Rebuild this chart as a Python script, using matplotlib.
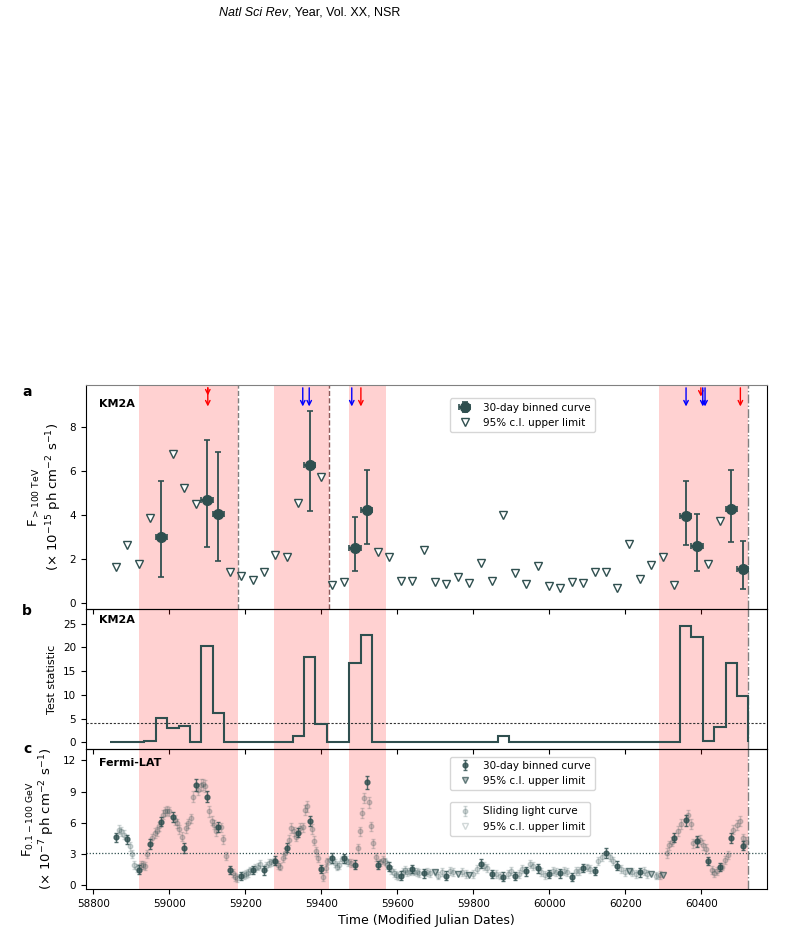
import numpy as np
import matplotlib.pyplot as plt

plt.rcParams["font.family"] = ["DejaVu Sans"]
plt.rcParams["font.size"] = 7.5
plt.rcParams["xtick.labelsize"] = 7.5
plt.rcParams["ytick.labelsize"] = 7.5

DSG = "#2f4f4f"  # darkslategray

# ---------------- data ----------------
# 30-day bin centres (MJD)
bin_mjd = [58859, 58889, 58919, 58949, 58979, 59009, 59039, 59069, 59099, 59129,
           59159, 59189, 59219, 59249, 59279, 59309, 59339, 59369, 59399, 59429,
           59459, 59489, 59519, 59549, 59579, 59609, 59639, 59669, 59699, 59729,
           59759, 59789, 59819, 59849, 59879, 59909, 59939, 59969, 59999, 60029,
           60059, 60089, 60119, 60149, 60179, 60209, 60239, 60269, 60299, 60329,
           60359, 60389, 60419, 60449, 60479, 60509]
bin_half = 15

# KM2A test statistic per bin
km2a_ts = [0, 0, 0, 0.35, 5.2, 3.0, 3.5, 0, 20.4, 6.1,
           0, 0, 0, 0, 0, 0, 1.26, 18.0, 3.9, 0,
           0, 16.7, 22.7, 0, 0, 0, 0, 0.05, 0, 0,
           0, 0, 0, 0, 1.4, 0, 0, 0, 0, 0,
           0, 0, 0, 0, 0, 0.1, 0, 0, 0.1, 0,
           24.6, 22.1, 0.2, 3.2, 16.8, 9.7]

# KM2A detections
km2a_det_mjd = [58979, 59099, 59129, 59369, 59489, 59519, 60359, 60389, 60479, 60509]
km2a_det_flux = [2.98, 4.68, 4.04, 6.27, 2.51, 4.21, 3.95, 2.60, 4.27, 1.53]
km2a_det_low = [1.17, 2.55, 1.91, 4.17, 1.43, 2.69, 2.64, 1.43, 2.75, 0.61]
km2a_det_high = [5.55, 7.41, 6.88, 8.74, 3.89, 6.04, 5.56, 4.05, 6.03, 2.82]

# KM2A upper limits
km2a_ul_mjd = [58859, 58889, 58919, 58949, 59009, 59039, 59069, 59159, 59189, 59219,
               59249, 59279, 59309, 59339, 59399, 59429, 59459, 59549, 59579, 59609,
               59639, 59669, 59699, 59729, 59759, 59789, 59819, 59849, 59879, 59909,
               59939, 59969, 59999, 60029, 60059, 60089, 60119, 60149, 60179, 60209,
               60239, 60269, 60299, 60329, 60419, 60449]
km2a_ul_flux = [1.64, 2.64, 1.76, 3.84, 6.79, 5.21, 4.51, 1.38, 1.20, 1.05,
                1.40, 2.16, 2.07, 4.53, 5.75, 0.82, 0.94, 2.32, 2.08, 1.00,
                1.00, 2.38, 0.94, 0.84, 1.19, 0.90, 1.82, 0.97, 3.98, 1.37,
                0.84, 1.67, 0.75, 0.67, 0.94, 0.91, 1.40, 1.38, 0.65, 2.67,
                1.06, 1.72, 2.07, 0.82, 1.76, 3.71]

# Fermi-LAT 30-day binned
fermi_det_mjd = [58859, 58889, 58919, 58949, 58979, 59009, 59039, 59069, 59099, 59129,
                 59159, 59189, 59219, 59249, 59279, 59309, 59339, 59369, 59399, 59429,
                 59459, 59489, 59519, 59549, 59579, 59609, 59639, 59669, 59729, 59819,
                 59849, 59879, 59909, 59939, 59969, 59999, 60029, 60059, 60089, 60119,
                 60149, 60179, 60239, 60329, 60359, 60389, 60419, 60449, 60479, 60509]
fermi_det_flux = [4.57, 4.38, 1.48, 3.93, 6.11, 6.55, 3.57, 9.65, 8.52, 5.60,
                  1.42, 0.87, 1.42, 1.40, 2.35, 3.60, 5.02, 6.18, 1.54, 2.60,
                  2.57, 1.96, 9.88, 1.93, 1.77, 0.90, 1.50, 1.10, 0.90, 2.06,
                  1.04, 0.80, 0.83, 1.30, 1.60, 1.04, 1.10, 0.77, 1.60, 1.36,
                  3.07, 1.84, 1.20, 4.55, 6.22, 4.20, 2.32, 1.74, 4.53, 3.77]
fermi_det_err = [0.45, 0.45, 0.45, 0.45, 0.45, 0.45, 0.45, 0.55, 0.5, 0.5,
                 0.4, 0.4, 0.4, 0.4, 0.4, 0.45, 0.45, 0.5, 0.4, 0.45,
                 0.45, 0.45, 0.6, 0.4, 0.4, 0.4, 0.4, 0.4, 0.4, 0.4,
                 0.4, 0.4, 0.4, 0.4, 0.45, 0.4, 0.4, 0.4, 0.4, 0.4,
                 0.45, 0.45, 0.4, 0.45, 0.5, 0.5, 0.4, 0.4, 0.45, 0.45]
fermi_ul_mjd = [59699, 59759, 59789, 60209, 60269, 60299]
fermi_ul_flux = [1.20, 1.06, 0.94, 1.30, 1.06, 1.00]

# Fermi-LAT sliding light curve
slide_mjd = [58866, 58873, 58880, 58895, 58901, 58908, 58915, 58924, 58931, 58936,
             58941, 58954, 58961, 58967, 58972, 58983, 58988, 58994, 59000, 59014,
             59021, 59026, 59033, 59044, 59050, 59056, 59061, 59076, 59082, 59088,
             59093, 59104, 59111, 59117, 59123, 59136, 59142, 59149, 59167, 59173,
             59179, 59195, 59202, 59208, 59213, 59225, 59233, 59239, 59255, 59261,
             59268, 59274, 59286, 59292, 59298, 59304, 59315, 59321, 59327, 59333,
             59345, 59351, 59356, 59361, 59374, 59380, 59386, 59392, 59404, 59411,
             59416, 59422, 59435, 59441, 59447, 59453, 59464, 59471, 59478, 59496,
             59501, 59507, 59512, 59525, 59531, 59537, 59543, 59554, 59561, 59567,
             59573, 59584, 59590, 59596, 59602, 59614, 59620, 59626, 59632, 59645,
             59651, 59658, 59677, 59686, 59708, 59717, 59739, 59747, 59769, 59781,
             59800, 59809, 59828, 59837, 59860, 59869, 59890, 59898, 59919, 59929,
             59949, 59958, 59979, 59988, 60009, 60018, 60039, 60047, 60069, 60077,
             60098, 60107, 60129, 60138, 60159, 60169, 60190, 60198, 60219, 60228,
             60249, 60258, 60281, 60291, 60309, 60316, 60322, 60339, 60348, 60366,
             60372, 60379, 60388, 60397, 60405, 60412, 60427, 60434, 60441, 60454,
             60462, 60471, 60484, 60493, 60502, 60511, 60519]
slide_flux = [5.31, 5.15, 4.83, 3.71, 3.00, 1.90, 1.61, 1.90, 1.90, 1.80,
              3.00, 4.50, 5.00, 5.15, 5.63, 6.76, 7.08, 7.15, 7.08, 6.27,
              5.95, 5.37, 4.66, 5.47, 5.95, 6.43, 8.52, 9.18, 9.65, 9.68,
              9.55, 7.08, 6.20, 5.80, 5.15, 5.56, 4.40, 2.80, 1.13, 0.80,
              0.64, 0.97, 1.06, 1.13, 1.39, 1.61, 1.77, 2.03, 1.84, 2.10,
              2.16, 2.26, 1.93, 1.77, 2.57, 3.06, 4.34, 5.47, 5.15, 4.66,
              5.47, 5.56, 7.24, 7.56, 5.40, 4.27, 3.22, 2.57, 0.80, 1.60,
              2.26, 2.42, 2.10, 1.77, 1.90, 2.45, 2.42, 2.16, 2.10, 3.54,
              5.15, 6.92, 8.36, 7.95, 5.63, 4.02, 2.67, 2.16, 2.42, 2.26,
              1.93, 1.45, 1.13, 0.97, 0.87, 1.29, 1.45, 1.20, 1.29, 1.29,
              1.20, 1.13, 1.23, 1.13, 0.90, 1.20, 1.30, 1.20, 1.20, 1.04,
              1.04, 1.52, 1.84, 1.60, 1.04, 0.90, 1.04, 1.30, 1.04, 1.52,
              2.00, 1.84, 1.20, 0.97, 1.30, 1.20, 1.36, 1.20, 1.30, 1.36,
              1.68, 1.52, 2.32, 2.71, 2.65, 2.32, 1.52, 1.20, 1.20, 1.04,
              1.30, 1.04, 0.90, 0.97, 3.06, 3.80, 4.18, 5.20, 5.85, 6.76,
              5.89, 4.00, 4.20, 4.35, 3.86, 3.47, 1.45, 1.13, 1.35, 1.77,
              2.41, 2.90, 5.31, 5.79, 6.18, 4.50, 4.18]
slide_err = [0.45, 0.45, 0.45, 0.45, 0.38, 0.38, 0.38, 0.38, 0.38, 0.38,
             0.38, 0.45, 0.45, 0.45, 0.45, 0.45, 0.45, 0.45, 0.45, 0.45,
             0.45, 0.45, 0.45, 0.45, 0.45, 0.45, 0.5, 0.5, 0.55, 0.55,
             0.55, 0.5, 0.45, 0.45, 0.45, 0.45, 0.45, 0.38, 0.38, 0.38,
             0.38, 0.38, 0.38, 0.38, 0.38, 0.38, 0.38, 0.38, 0.38, 0.38,
             0.38, 0.38, 0.38, 0.38, 0.38, 0.45, 0.45, 0.45, 0.45, 0.45,
             0.45, 0.45, 0.5, 0.5, 0.45, 0.45, 0.45, 0.38, 0.38, 0.38,
             0.38, 0.38, 0.38, 0.38, 0.38, 0.38, 0.38, 0.38, 0.38, 0.45,
             0.45, 0.5, 0.5, 0.5, 0.45, 0.45, 0.38, 0.38, 0.38, 0.38,
             0.38, 0.38, 0.38, 0.38, 0.38, 0.38, 0.38, 0.38, 0.38, 0.38,
             0.38, 0.38, 0.38, 0.38, 0.38, 0.38, 0.38, 0.38, 0.38, 0.38,
             0.38, 0.38, 0.38, 0.38, 0.38, 0.38, 0.38, 0.38, 0.38, 0.38,
             0.38, 0.38, 0.38, 0.38, 0.38, 0.38, 0.38, 0.38, 0.38, 0.38,
             0.38, 0.38, 0.38, 0.38, 0.38, 0.38, 0.38, 0.38, 0.38, 0.38,
             0.38, 0.38, 0.38, 0.38, 0.45, 0.45, 0.45, 0.45, 0.5, 0.5,
             0.5, 0.45, 0.45, 0.45, 0.45, 0.45, 0.38, 0.38, 0.38, 0.38,
             0.38, 0.38, 0.45, 0.5, 0.5, 0.45, 0.45]
slide_ul_mjd = [59698, 60213, 60285]
slide_ul_flux = [1.15, 1.25, 0.85]

# flaring periods and markers
flare_start = [58920, 59275, 59473, 60290]
flare_end = [59181, 59419, 59570, 60524]
red_arrow_mjd = [59101, 59101, 59504, 60399, 60503]
red_arrow_end = [9.45, 8.95, 8.95, 9.4, 8.95]
blue_arrow_mjd = [59351, 59368, 59480, 60360, 60404, 60410]
blue_arrow_end = [8.95, 8.95, 8.95, 8.95, 8.95, 8.95]
arrow_top = 9.8

# y labels: (first line, second line)
ylab_a = ("F$_{>100\\ \\rm TeV}$", "($\\times$ 10$^{-15}$ ph cm$^{-2}$ s$^{-1}$)")
ylab_c = ("F$_{0.1-100\\ \\rm GeV}$", "($\\times$ 10$^{-7}$ ph cm$^{-2}$ s$^{-1}$)")

# ---------------- figure ----------------
fig = plt.figure(figsize=(8.1, 9.48), dpi=100)
left, width = 0.106, 0.8404
ax_a = fig.add_axes([left, 0.3576, width, 0.2363])
ax_b = fig.add_axes([left, 0.2099, width, 0.1477], sharex=ax_a)
ax_c = fig.add_axes([left, 0.0622, width, 0.1477], sharex=ax_a)
for ax in (ax_a, ax_b, ax_c):
    ax.set_facecolor("none")
    for s, e in zip(flare_start, flare_end):
        ax.axvspan(s, e, color="red", alpha=0.18, lw=0, zorder=0)
    ax.axvline(flare_end[-1], color="gray", ls="-.", lw=1, zorder=1)

# panel a
ax_a.axvline(flare_end[0], color="gray", ls="--", lw=1, zorder=1)
ax_a.axvline(flare_end[1], color="#8b5a5a", ls="--", lw=1, zorder=1)
det = np.array(km2a_det_flux)
yerr = [det - np.array(km2a_det_low), np.array(km2a_det_high) - det]
h_det = ax_a.errorbar(km2a_det_mjd, km2a_det_flux, yerr=yerr, xerr=bin_half,
                      fmt="o", ms=7, color=DSG, elinewidth=1.3, capsize=2.5,
                      capthick=1.2, zorder=4)
h_ul, = ax_a.plot(km2a_ul_mjd, km2a_ul_flux, "v", ms=6, mfc="white", mec=DSG,
                  mew=1, ls="none", zorder=3)
for x, y in zip(red_arrow_mjd, red_arrow_end):
    ax_a.annotate("", xy=(x, y), xytext=(x, arrow_top),
                  arrowprops=dict(arrowstyle="->", color="red", lw=1,
                                  shrinkA=0, shrinkB=0, mutation_scale=8))
for x, y in zip(blue_arrow_mjd, blue_arrow_end):
    ax_a.annotate("", xy=(x, y), xytext=(x, arrow_top),
                  arrowprops=dict(arrowstyle="->", color="blue", lw=1,
                                  shrinkA=0, shrinkB=0, mutation_scale=8))
ax_a.set_ylim(-0.29, 9.93)
ax_a.set_yticks([0, 2, 4, 6, 8])
ax_a.set_ylabel(ylab_a[1], fontsize=9.5)
ax_a.spines["top"].set_color("#808080")
ax_a.legend([h_det, h_ul], ["30-day binned curve", "95% c.l. upper limit"],
            loc="upper left", bbox_to_anchor=(0.535, 0.94), borderaxespad=0,
            fontsize=7.5)
ax_a.text(0.019, 0.915, "KM2A", transform=ax_a.transAxes, fontweight="bold",
          fontsize=8, va="center")

# panel b
edges = [m - bin_half for m in bin_mjd] + [bin_mjd[-1] + bin_half]
ax_b.stairs(km2a_ts, edges, color=DSG, lw=1.5, baseline=0, zorder=3)
ax_b.axhline(4, color="#333333", ls=(0, (2, 1.5)), lw=0.8, zorder=2)
ax_b.set_ylim(-1.4, 28.1)
ax_b.set_yticks([0, 5, 10, 15, 20, 25])
ax_b.set_ylabel("Test statistic", fontsize=8)
ax_b.text(0.019, 0.92, "KM2A", transform=ax_b.transAxes, fontweight="bold",
          fontsize=8, va="center")

# panel c
sl = ax_c.errorbar(slide_mjd, slide_flux, yerr=slide_err, fmt="o", ms=3.3,
                   color=DSG, alpha=0.22, elinewidth=1, capsize=1.5, zorder=2)
slu, = ax_c.plot(slide_ul_mjd, slide_ul_flux, "v", ms=4, color=DSG, alpha=0.22,
                 mfc="none", ls="none", zorder=2)
bn = ax_c.errorbar(fermi_det_mjd, fermi_det_flux, yerr=fermi_det_err, fmt="o",
                   ms=3.5, color=DSG, alpha=0.8, elinewidth=1, capsize=1.5,
                   zorder=4)
bnu, = ax_c.plot(fermi_ul_mjd, fermi_ul_flux, "v", ms=4, color=DSG, alpha=0.7,
                 mfc="#9aaaaa", ls="none", zorder=4)
ax_c.axhline(3.07, color=DSG, ls=(0, (1, 1.5)), lw=0.9, zorder=1)
ax_c.set_ylim(-0.4, 13.1)
ax_c.set_yticks([0, 3, 6, 9, 12])
ax_c.set_ylabel(ylab_c[1], fontsize=9.5)
leg1 = ax_c.legend([bn, bnu], ["30-day binned curve", "95% c.l. upper limit"],
                   loc="upper left", bbox_to_anchor=(0.535, 0.945),
                   borderaxespad=0, fontsize=7.5)
ax_c.add_artist(leg1)
ax_c.legend([sl, slu], ["Sliding light curve", "95% c.l. upper limit"],
            loc="upper left", bbox_to_anchor=(0.535, 0.62), borderaxespad=0,
            fontsize=7.5)
ax_c.text(0.019, 0.9, "Fermi-LAT", transform=ax_c.transAxes, fontweight="bold",
          fontsize=8, va="center")
ax_c.set_xlim(58780, 60572)
ax_c.set_xticks(np.arange(58800, 60401, 200))
ax_c.set_xlabel("Time (Modified Julian Dates)", fontsize=9)
for ax in (ax_a, ax_b):
    ax.tick_params(axis="x", labelbottom=False)

# panel letters
for lbl, ypix in (("a", 392), ("b", 611), ("c", 749)):
    fig.text(27 / 810, 1 - ypix / 948, lbl, fontweight="bold", fontsize=10,
             ha="center", va="center")

# journal header
t1 = fig.text(219 / 810, 1 - 15.5 / 948, "Natl Sci Rev", style="italic",
              family="Liberation Sans", fontsize=9, va="baseline")
fig.canvas.draw()
renderer = fig.canvas.get_renderer()
bb = t1.get_window_extent(renderer)
fig.text(bb.x1 / fig.bbox.width, 1 - 15.5 / 948, ", Year, Vol. XX, NSR",
         family="Liberation Sans", fontsize=9, va="baseline")

# first line of the two-line y labels, placed left of the second line
for ax, lab in ((ax_a, ylab_a), (ax_c, ylab_c)):
    lb = ax.yaxis.label.get_window_extent(renderer)
    axb = ax.get_window_extent(renderer)
    fig.text((lb.x0 - 2) / fig.bbox.width, (axb.y0 + axb.y1) / 2 / fig.bbox.height,
             lab[0], rotation=90, fontsize=9.5, ha="right", va="center")

fig.savefig("out.png", dpi=100)
